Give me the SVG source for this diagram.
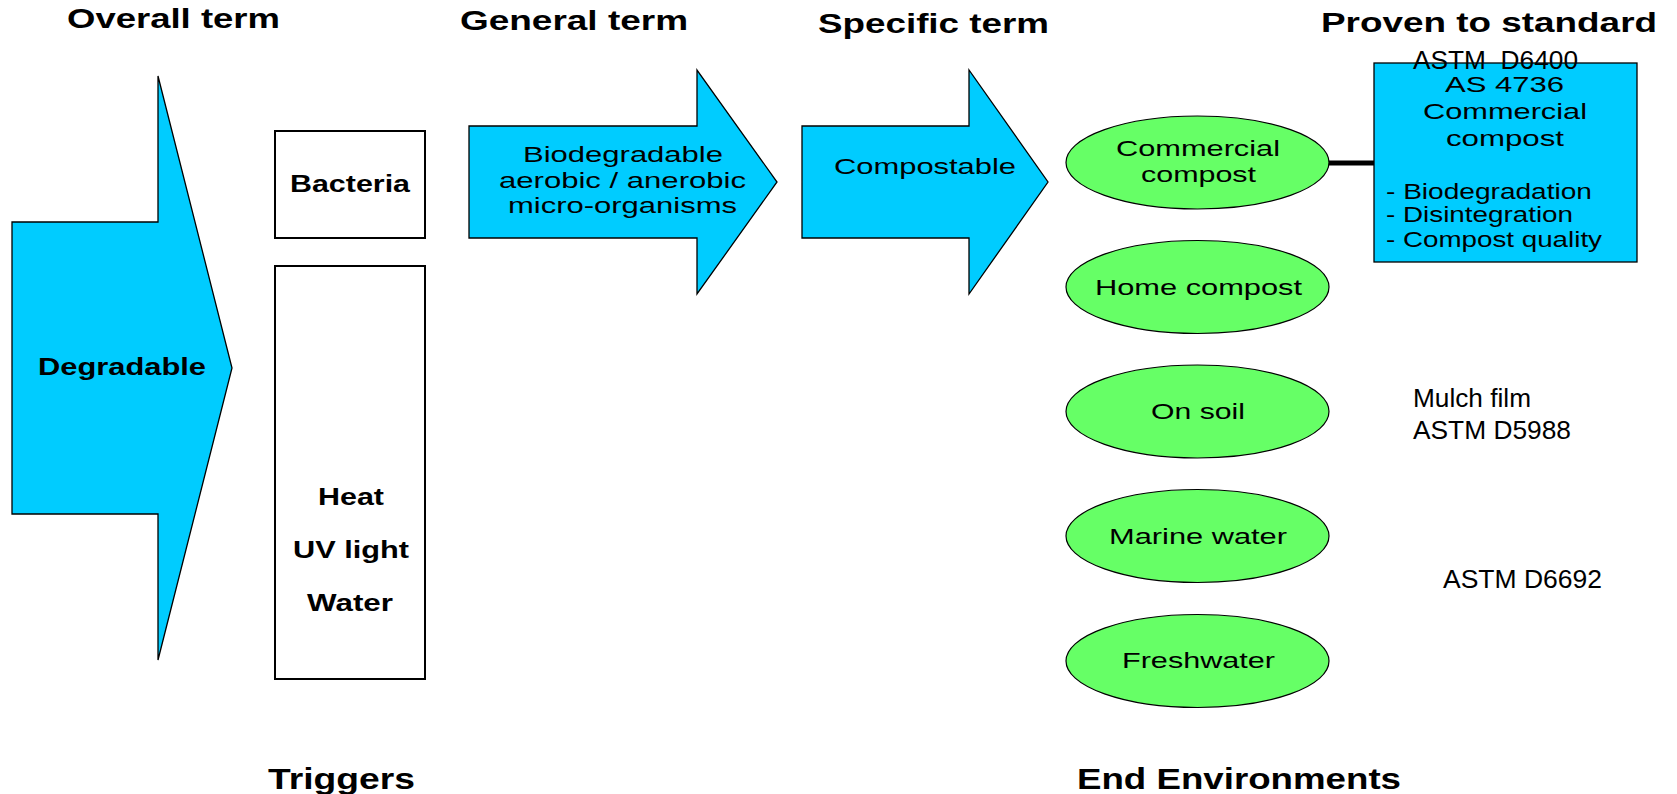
<svg xmlns="http://www.w3.org/2000/svg" width="1677" height="794" viewBox="0 0 1677 794">
<style>
text{font-family:"Liberation Sans",Arial,sans-serif;fill:#000}
.h{font-weight:bold;font-size:27px}
.hb{font-weight:bold;font-size:29px}
.b{font-weight:bold;font-size:23px}
.r{font-size:22.5px}
.s{font-size:25px;white-space:pre}
.c{text-anchor:middle}
.blue{fill:#00CCFF;stroke:#000;stroke-width:1.3}
.box{fill:#fff;stroke:#000;stroke-width:2}
.ell{fill:#66FF66;stroke:#000;stroke-width:1.2}
</style>
<rect width="1677" height="794" fill="#fff"/>
<g id="headings">
<text class="h c" x="173.5" y="28" textLength="213" lengthAdjust="spacingAndGlyphs">Overall term</text>
<text class="h c" x="574" y="30" textLength="228" lengthAdjust="spacingAndGlyphs">General term</text>
<text class="h c" x="933.5" y="33" textLength="231" lengthAdjust="spacingAndGlyphs">Specific term</text>
<text class="h c" x="1489" y="32" textLength="336" lengthAdjust="spacingAndGlyphs">Proven to standard</text>
<text class="hb c" x="341.5" y="789" textLength="147" lengthAdjust="spacingAndGlyphs">Triggers</text>
<text class="hb c" x="1239" y="789" textLength="324" lengthAdjust="spacingAndGlyphs">End Environments</text>
</g>
<g id="degradable">
<polygon class="blue" points="12,222 158,222 158,76 232,368 158,660 158,514 12,514"/>
<text class="b c" x="122" y="375" textLength="168" lengthAdjust="spacingAndGlyphs">Degradable</text>
</g>
<g id="bacteria">
<rect class="box" x="275" y="131" width="150" height="107"/>
<text class="b c" x="350" y="192" textLength="120" lengthAdjust="spacingAndGlyphs">Bacteria</text>
</g>
<g id="triggers">
<rect class="box" x="275" y="266" width="150" height="413"/>
<text class="b c" x="351" y="505" textLength="66" lengthAdjust="spacingAndGlyphs">Heat</text>
<text class="b c" x="351" y="558" textLength="116" lengthAdjust="spacingAndGlyphs">UV light</text>
<text class="b c" x="350" y="611" textLength="86" lengthAdjust="spacingAndGlyphs">Water</text>
</g>
<g id="biodegradable">
<polygon class="blue" points="469,126 697,126 697,70 777,182 697,294 697,238 469,238"/>
<text class="r c" x="623" y="162" textLength="200" lengthAdjust="spacingAndGlyphs">Biodegradable</text>
<text class="r c" x="622.5" y="188" textLength="247" lengthAdjust="spacingAndGlyphs">aerobic / anerobic</text>
<text class="r c" x="622.5" y="213" textLength="229" lengthAdjust="spacingAndGlyphs">micro-organisms</text>
</g>
<g id="compostable">
<polygon class="blue" points="802,126 969,126 969,70 1048,182 969,294 969,238 802,238"/>
<text class="r c" x="925" y="174" textLength="182" lengthAdjust="spacingAndGlyphs">Compostable</text>
</g>
<g id="connectors">
<line x1="1329" y1="163" x2="1374" y2="163" stroke="#000" stroke-width="5" stroke-linecap="round"/>
</g>
<g id="commercial-compost">
<ellipse class="ell" cx="1197.5" cy="162.5" rx="131.5" ry="46.5"/>
<text class="r c" x="1198" y="156" textLength="164" lengthAdjust="spacingAndGlyphs">Commercial</text>
<text class="r c" x="1198.5" y="182" textLength="115" lengthAdjust="spacingAndGlyphs">compost</text>
</g>
<g id="home-compost">
<ellipse class="ell" cx="1197.5" cy="287" rx="131.5" ry="46.5"/>
<text class="r c" x="1198.5" y="294.5" textLength="207" lengthAdjust="spacingAndGlyphs">Home compost</text>
</g>
<g id="on-soil">
<ellipse class="ell" cx="1197.5" cy="411.5" rx="131.5" ry="46.5"/>
<text class="r c" x="1198" y="419" textLength="94" lengthAdjust="spacingAndGlyphs">On soil</text>
</g>
<g id="marine-water">
<ellipse class="ell" cx="1197.5" cy="536" rx="131.5" ry="46.5"/>
<text class="r c" x="1198" y="543.5" textLength="178" lengthAdjust="spacingAndGlyphs">Marine water</text>
</g>
<g id="freshwater">
<ellipse class="ell" cx="1197.5" cy="661" rx="131.5" ry="46.5"/>
<text class="r c" x="1198.5" y="668" textLength="153" lengthAdjust="spacingAndGlyphs">Freshwater</text>
</g>
<g id="standard-box">
<rect class="blue" x="1374" y="63" width="263" height="199"/>
<text class="s" x="1413" y="69" textLength="165" lengthAdjust="spacingAndGlyphs">ASTM  D6400</text>
<text class="r c" x="1504.5" y="92" textLength="119" lengthAdjust="spacingAndGlyphs">AS 4736</text>
<text class="r c" x="1505" y="119" textLength="164" lengthAdjust="spacingAndGlyphs">Commercial</text>
<text class="r c" x="1505" y="146" textLength="118" lengthAdjust="spacingAndGlyphs">compost</text>
<text class="r" x="1386" y="199" textLength="206" lengthAdjust="spacingAndGlyphs">- Biodegradation</text>
<text class="r" x="1386" y="222" textLength="187" lengthAdjust="spacingAndGlyphs">- Disintegration</text>
<text class="r" x="1386" y="247" textLength="216" lengthAdjust="spacingAndGlyphs">- Compost quality</text>
</g>
<g id="mulch-film">
<text class="s" x="1413" y="407" textLength="118" lengthAdjust="spacingAndGlyphs">Mulch film</text>
<text class="s" x="1413" y="439" textLength="158" lengthAdjust="spacingAndGlyphs">ASTM D5988</text>
</g>
<g id="astm-d6692">
<text class="s" x="1443" y="588" textLength="159" lengthAdjust="spacingAndGlyphs">ASTM D6692</text>
</g>
</svg>
